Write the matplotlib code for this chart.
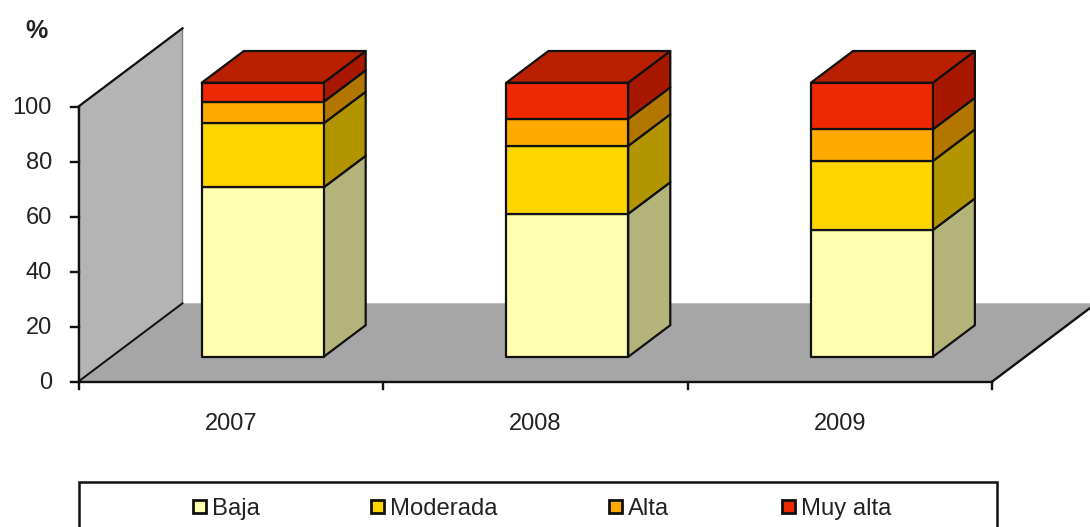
#!/usr/bin/env python
import matplotlib
matplotlib.use("Agg")
import matplotlib.pyplot as plt
from matplotlib.patches import Polygon, Rectangle

plt.rcParams["font.family"] = ["Liberation Sans", "DejaVu Sans"]

years = ["2007", "2008", "2009"]
levels = ["Baja", "Moderada", "Alta", "Muy alta"]
baja = [61.6, 52.0, 46.1]
moderada = [23.3, 24.7, 25.1]
alta = [7.8, 9.8, 11.5]
muy_alta = [7.0, 13.2, 17.0]
yticks = [0, 20, 40, 60, 80, 100]

front_cols = ["#FFFFAF", "#FFD500", "#FFAA00", "#EE2800"]
side_cols = ["#B3B37A", "#B39500", "#B37700", "#A81800"]
top_col = "#B82000"
legend_x = [192, 370, 608, 781]

W, H = 1090, 527
X0, STEP = 78.5, 304.6      # axis start and category width, px
Y0, PX_PER = 381.5, 2.75    # y axis zero and px per percent
DX, DY = 104, 78.2          # full depth of the floor, px
BAR_L, BAR_W = 0.297, 0.40  # bar left and width, fraction of category
D1, D2 = 0.315, 0.72        # bar front and back depth, fraction of floor depth

fig = plt.figure(figsize=(W / 100, H / 100), dpi=100)
ax = fig.add_axes([0, 0, 1, 1])
ax.set_xlim(0, W)
ax.set_ylim(-(H - Y0) / PX_PER, Y0 / PX_PER)
ax.axis("off")

def pt(x, val, depth=0):
    return (x + depth * DX, val + depth * DY / PX_PER)

def poly(pts, fc, ec="#111111", lw=1.6, z=2):
    ax.add_patch(Polygon(pts, closed=True, fc=fc, ec=ec, lw=lw, zorder=z, joinstyle="round"))

x_end = X0 + 3 * STEP

# back wall and floor
poly([pt(X0, 0), pt(X0, 100), pt(X0, 100, 1), pt(X0, 0, 1)], "#B4B4B4", ec="#808080", lw=1.0, z=1)
poly([pt(X0, 0), pt(x_end, 0), pt(x_end, 0, 1), pt(X0, 0, 1)], "#A6A6A6", ec="none", lw=0, z=1)
ax.plot(*zip(pt(X0, 100), pt(X0, 100, 1)), color="#111111", lw=1.6, zorder=3)
ax.plot(*zip(pt(X0, 0), pt(X0, 0, 1)), color="#111111", lw=1.4, zorder=3)
ax.plot(*zip(pt(x_end, 0), pt(x_end, 0, 1)), color="#111111", lw=1.7, zorder=3)

# axes lines and ticks
ax.plot([X0, X0], [0, 100], color="#111111", lw=1.7, zorder=3)
ax.plot([X0, x_end], [0, 0], color="#111111", lw=1.7, zorder=3)
for v in yticks:
    ax.plot([X0 - 8, X0], [v, v], color="#111111", lw=1.7, zorder=3)
    ax.text(52, v - 1.6 / PX_PER, str(v), ha="right", va="center", fontsize=17, color="#222222")
for i in range(4):
    ax.plot([X0 + i * STEP] * 2, [0, -7 / PX_PER], color="#111111", lw=1.7, zorder=3)
for i, y in enumerate(years):
    ax.text(X0 + (i + 0.5) * STEP, -43 / PX_PER, y, ha="center", va="center",
            fontsize=17, color="#222222")
ax.text(37, (Y0 - 31.5) / PX_PER, "%", ha="center", va="center", fontsize=18,
        fontweight="bold", color="#222222")

# stacked bars
series = [baja, moderada, alta, muy_alta]
for i in range(len(years)):
    x1 = X0 + (i + BAR_L) * STEP
    x2 = x1 + BAR_W * STEP
    bottom = 0
    for s, fc, sc in zip(series, front_cols, side_cols):
        top = bottom + s[i]
        poly([pt(x2, bottom, D1), pt(x2, bottom, D2), pt(x2, top, D2), pt(x2, top, D1)], sc)
        poly([pt(x1, bottom, D1), pt(x2, bottom, D1), pt(x2, top, D1), pt(x1, top, D1)], fc)
        bottom = top
    poly([pt(x1, bottom, D1), pt(x2, bottom, D1), pt(x2, bottom, D2), pt(x1, bottom, D2)], top_col)

# legend box runs past the bottom edge of the picture
to_y = lambda py: (Y0 - py) / PX_PER
ax.add_patch(Rectangle((79, to_y(540)), 918, to_y(481.5) - to_y(540), fc="white", ec="#111111", lw=1.8, zorder=2))
for x, name, col in zip(legend_x, levels, front_cols):
    ax.add_patch(Rectangle((x + 1, to_y(513)), 13, 13 / PX_PER, fc=col, ec="#111111", lw=2.0, zorder=3))
    ax.text(x + 20, to_y(515), name, ha="left", va="baseline", fontsize=17.2, color="#222222", zorder=3)

fig.savefig("out.png", dpi=100)
